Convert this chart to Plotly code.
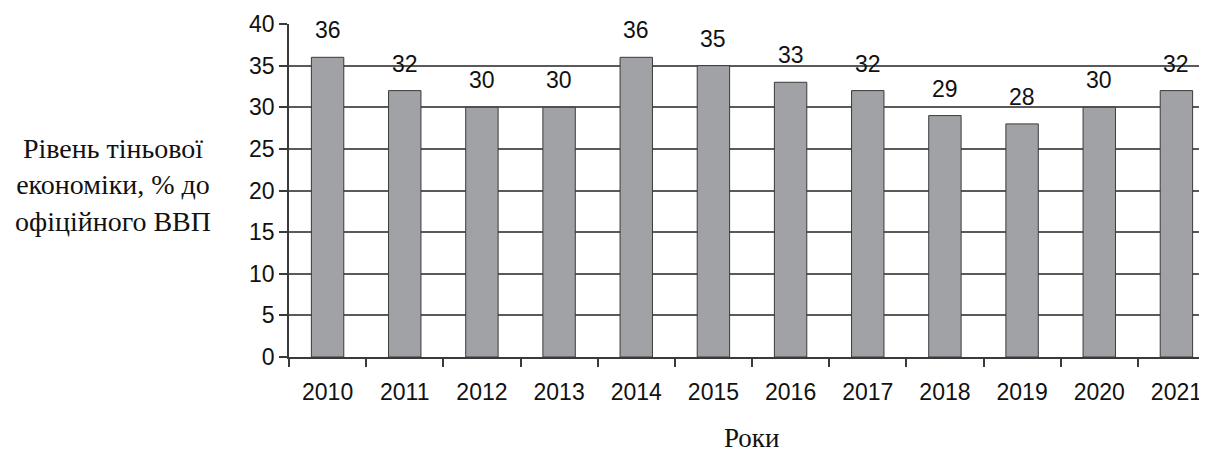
import plotly.graph_objects as go


# === Data ===

years = ["2010", "2011", "2012", "2013", "2014", "2015",
         "2016", "2017", "2018", "2019", "2020", "2021"]
shadow_share = [36, 32, 30, 30, 36, 35, 33, 32, 29, 28, 30, 32]
y_ticks = [0, 5, 10, 15, 20, 25, 30, 35, 40]

y_title = "Рівень тіньової<br>економіки, % до<br>офіційного ВВП"
x_title = "Роки"

# === Styles ===

BAR_COLOR = "#a1a2a6"
LINE_COLOR = "#3a3a3a"
GRID_COLOR = "#5a5a5a"
SANS = "Liberation Sans, Arial, sans-serif"
SERIF = "Liberation Serif, Times New Roman, serif"

fig = go.Figure(
    go.Bar(
        x=years,
        y=shadow_share,
        width=0.42,
        marker=dict(color=BAR_COLOR, line=dict(color=LINE_COLOR, width=1)),
        hoverinfo="x+y",
    )
)

# value labels above bars (x given as category index)
for i, val in enumerate(shadow_share):
    fig.add_annotation(
        x=i, y=val, xref="x", yref="y",
        text=str(val), showarrow=False,
        yanchor="middle", yshift=27,
        font=dict(family=SANS, size=23, color="#111"),
    )

# axis titles
fig.add_annotation(
    xref="paper", yref="paper", x=-0.19, y=0.5165,
    text=y_title, showarrow=False, align="center",
    xanchor="center", yanchor="middle",
    font=dict(family=SERIF, size=28, color="#111"),
)
fig.add_annotation(
    xref="paper", yref="paper", x=0.499, y=-0.243,
    text=x_title, showarrow=False,
    xanchor="center", yanchor="middle",
    font=dict(family=SERIF, size=27, color="#111"),
)

# the page body adds an 8px offset, margins compensate for it
fig.update_layout(
    width=1207,
    height=455,
    margin=dict(l=281, r=0, t=16, b=106),
    plot_bgcolor="#FFFFFF",
    paper_bgcolor="#FFFFFF",
    showlegend=False,
    xaxis=dict(
        type="category",
        range=[-0.5, 11.5],
        tickson="boundaries",
        ticks="outside",
        ticklen=8,
        tickcolor=LINE_COLOR,
        tickwidth=1.5,
        ticklabelstandoff=14,
        showline=True,
        linecolor=LINE_COLOR,
        linewidth=1.5,
        showgrid=False,
        tickfont=dict(family=SANS, size=23, color="#111"),
    ),
    yaxis=dict(
        range=[0, 40],
        tickvals=y_ticks,
        ticks="outside",
        ticklen=8,
        tickcolor=LINE_COLOR,
        tickwidth=1.5,
        showline=True,
        linecolor=LINE_COLOR,
        linewidth=1.5,
        showgrid=True,
        gridcolor=GRID_COLOR,
        gridwidth=1.5,
        zeroline=False,
        tickfont=dict(family=SANS, size=23, color="#111"),
    ),
)

fig.write_html("out.html")
